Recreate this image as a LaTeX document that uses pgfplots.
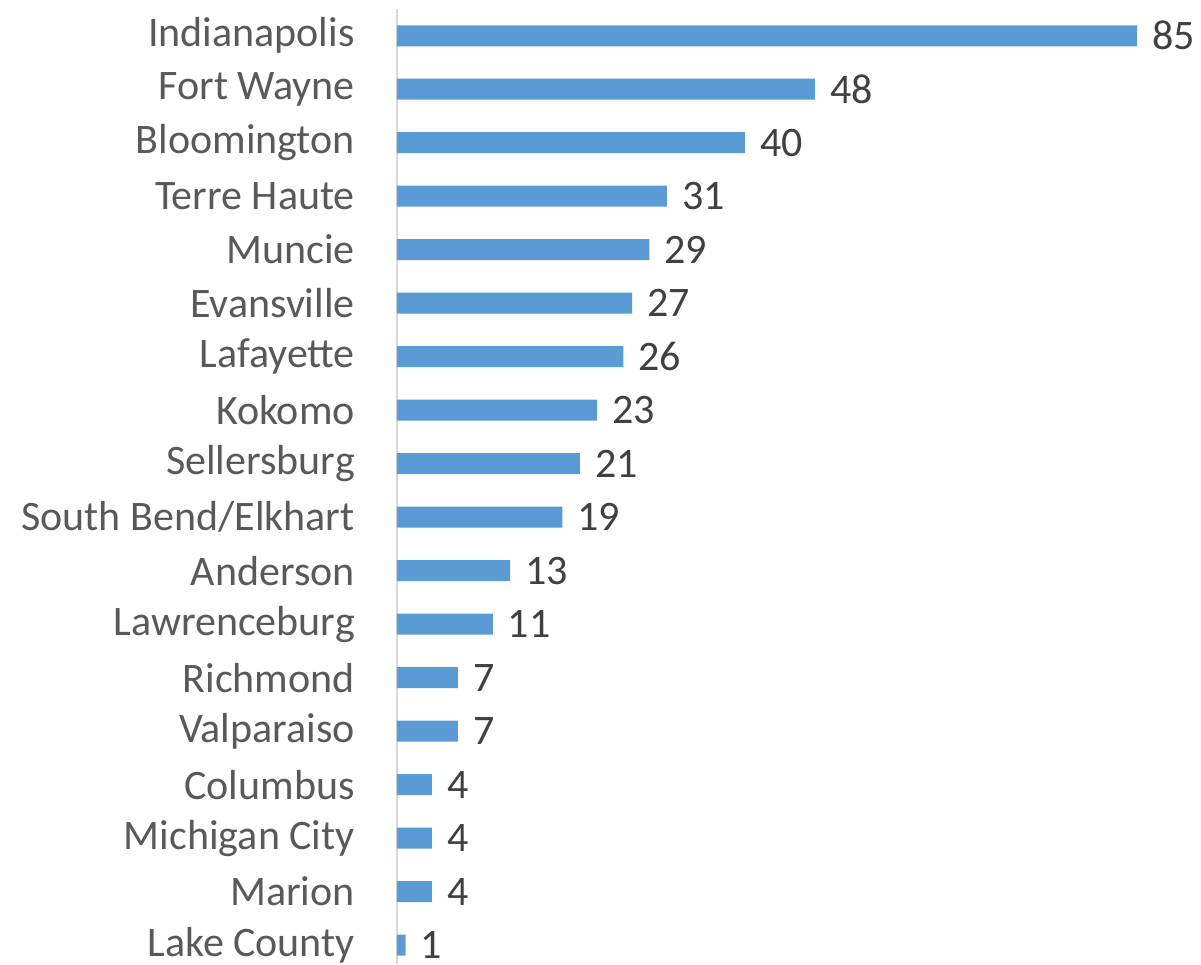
\documentclass[border=0pt]{standalone}
\usepackage{pgfplots}
\pgfplotsset{compat=1.18}
\usepackage{fontspec}
\setmainfont{Carlito}
\definecolor{barblue}{HTML}{5B9BD5}
\definecolor{labgray}{HTML}{595959}
\definecolor{valgray}{HTML}{404040}
\definecolor{axgray}{HTML}{D9D9D9}
\begin{document}
\begin{tikzpicture}
\begin{axis}[
  at={(0pt,0pt)}, anchor=north west,
  scale only axis,
  width=804pt, height=955pt,
  xmin=0, xmax=92.35,
  ymin=-0.5, ymax=17.355,
  y dir=reverse,
  xbar, bar width=21pt,
  axis x line=none,
  axis y line*=left,
  y axis line style={draw=axgray, line width=2pt},
  ytick={0,...,17},
  yticklabels={Indianapolis,Fort Wayne,Bloomington,Terre Haute,Muncie,Evansville,Lafayette,Kokomo,Sellersburg,South Bend/Elkhart,Anderson,Lawrenceburg,Richmond,Valparaiso,Columbus,Michigan City,Marion,Lake County},
  major tick length=0pt,
  yticklabel style={font=\fontsize{42}{50}\selectfont, text=labgray, anchor=east, inner sep=0pt, xshift=-42pt},
  /pgf/number format/assume math mode=true,
  nodes near coords,
  nodes near coords style={font=\fontsize{42}{50}\selectfont, text=valgray, anchor=west, inner sep=0pt, xshift=15pt},
  clip=false,
]
\addplot[fill=barblue, draw=none] coordinates {
(85,0) (48,1) (40,2) (31,3) (29,4) (27,5) (26,6) (23,7) (21,8) (19,9) (13,10) (11,11) (7,12) (7,13) (4,14) (4,15) (4,16) (1,17)
};
\end{axis}
\pgfresetboundingbox
\useasboundingbox (-397pt,9pt) rectangle (804pt,-955pt);
\end{tikzpicture}
\end{document}
